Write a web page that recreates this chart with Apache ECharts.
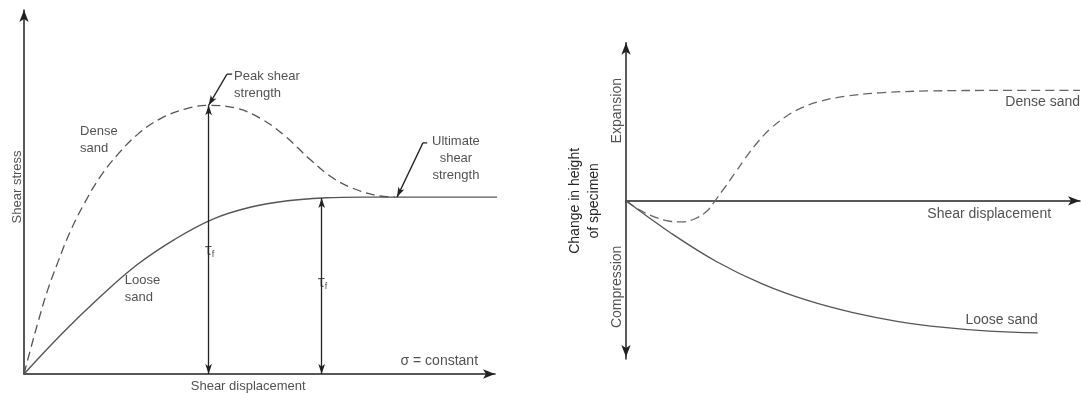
<!DOCTYPE html>
<html><head><meta charset="utf-8">
<script src="https://cdn.jsdelivr.net/npm/echarts@6/dist/echarts.min.js"></script>
<style>html,body{margin:0;padding:0;background:#fff}#chart{width:1081px;height:394px}</style>
</head><body><div id="chart"></div>
<script>
// Left panel: shear stress against shear displacement (arbitrary units 0-100)
const stressDense = [[0,0],[1.27,6.2],[2.97,14.2],[4.88,22.5],[7.22,30.8],[9.77,39.0],[12.74,46.7],[16.14,54.1],[19.96,60.4],[24.2,65.9],[28.9,70.1],[34.2,72.8],[39.2,73.8],[44.8,73.1],[50.1,70.3],[55.4,65.4],[60.7,59.0],[66.0,53.5],[71.3,50.3],[75.6,48.9],[78.8,48.6]];
const stressLoose = [[0,0],[8,11.0],[16,21.0],[24,30.0],[32,37.0],[40,42.5],[48,45.8],[56,47.6],[64,48.4],[72,48.6],[100.6,48.6]];
const peakStrength = [39.2, 73.8];
const ultimateLoose = [63.2, 48.35];
const ultimatePoint = [79.2, 48.6];

// Right panel: change in specimen height against shear displacement
const heightDense = [[0,0],[3.08,-5.8],[6.39,-10.3],[9.69,-12.9],[12.33,-13.3],[15.2,-11.3],[17.84,-6.4],[19.6,0],[21.8,8.6],[24.0,17.6],[26.2,26.6],[28.85,36.6],[31.7,45.3],[35.0,52.9],[38.3,58.3],[42.7,62.9],[48.2,66.1],[55.9,68.3],[67.0,69.5],[82.4,69.8],[100,69.8]];
const heightLoose = [[0,0],[10,-20.6],[20,-38.5],[30,-52.5],[40,-63.0],[50,-70.7],[60,-76.3],[70,-80.0],[80,-82.4],[90.7,-83.5]];

const FONT = '"Liberation Sans", Arial, sans-serif';
const INK = '#222';
const CURVE = '#555';
const TEXT = '#262626';

function txt(x, y, text, extra) {
  return { value: [x, y], label: Object.assign({
    show: true, position: 'inside', formatter: text, color: TEXT,
    fontFamily: FONT, fontSize: 13, lineHeight: 17
  }, extra || {}) };
}

const tauRich = {
  t: { fontSize: 17, fontFamily: FONT, color: TEXT },
  s: { fontSize: 9, fontFamily: FONT, color: TEXT, padding: [9, 0, 0, 0] }
};

const leftLabels = [
  txt(44.6, 79.4, 'Peak shear\nstrength', { align: 'left' }),
  txt(91.7, 59.1, 'Ultimate\nshear\nstrength'),
  txt(11.9, 64.4, 'Dense\nsand', { align: 'left' }),
  txt(21.4, 23.5, 'Loose\nsand', { align: 'left' }),
  txt(96.4, 3.4, 'σ = constant', { align: 'right', fontSize: 14 }),
  txt(47.6, -3.3, 'Shear displacement'),
  txt(-1.4, 51.4, 'Shear stress', { rotate: 90 }),
  txt(peakStrength[0] + 0.2, 34.1, '{t|τ}{s|f}', { rich: tauRich }),
  txt(ultimateLoose[0] + 0.2, 25.3, '{t|τ}{s|f}', { rich: tauRich })
];

const rightLabels = [
  txt(-1.85, 57, 'Expansion', { rotate: 90, fontSize: 14 }),
  txt(-1.85, -54.4, 'Compression', { rotate: 90, fontSize: 14 }),
  txt(80, -8.2, 'Shear displacement', { fontSize: 14 }),
  txt(100, 62.7, 'Dense sand', { align: 'right', fontSize: 14 }),
  txt(90.7, -75.3, 'Loose sand', { align: 'right', fontSize: 14 })
];

function axisLineStyle(symbols, offsets) {
  return { show: true, onZero: true, symbol: symbols, symbolSize: [7, 12], symbolOffset: offsets,
    lineStyle: { color: INK, width: 1.5 } };
}

const hiddenBits = { splitLine: { show: false }, axisTick: { show: false }, axisLabel: { show: false } };

const option = {
  animation: false,
  grid: [
    { left: 24, top: 10, width: 471, height: 364 },
    { left: 626, top: 42.7, width: 454, height: 316.3 }
  ],
  xAxis: [
    Object.assign({ type: 'value', gridIndex: 0, min: 0, max: 100, axisLine: axisLineStyle(['none', 'arrow'], [0, 0]) }, hiddenBits),
    Object.assign({ type: 'value', gridIndex: 1, min: 0, max: 100, axisLine: axisLineStyle(['none', 'arrow'], [0, 0]) }, hiddenBits)
  ],
  yAxis: [
    Object.assign({ type: 'value', gridIndex: 0, min: 0, max: 100, axisLine: axisLineStyle(['none', 'arrow'], [0, 0]) }, hiddenBits),
    Object.assign({ type: 'value', gridIndex: 1, min: -100, max: 100,
      axisLine: axisLineStyle(['arrow', 'arrow'], [2, 0]),
      name: 'Change in height\nof specimen', nameLocation: 'middle', nameGap: 22, nameRotate: 90,
      nameTextStyle: { fontFamily: FONT, fontSize: 14, color: TEXT, lineHeight: 19 } }, hiddenBits)
  ],
  series: [
    {
      type: 'line', xAxisIndex: 0, yAxisIndex: 0, data: stressDense, smooth: 0.4, showSymbol: false, silent: true,
      lineStyle: { color: CURVE, width: 1.3, type: [9, 5] }
    },
    {
      type: 'line', xAxisIndex: 0, yAxisIndex: 0, data: stressLoose, smooth: 0.4, showSymbol: false, silent: true, clip: false,
      lineStyle: { color: CURVE, width: 1.4 },
      markLine: {
        silent: true, symbol: ['arrow', 'arrow'], symbolSize: [5, 10],
        label: { show: false }, lineStyle: { color: INK, width: 1.3, type: 'solid' },
        data: [
          [{ coord: [peakStrength[0], 0] }, { coord: peakStrength }],
          [{ coord: [ultimateLoose[0], 0] }, { coord: ultimateLoose }],
          [{ coord: [peakStrength[0] + 3.9, 82.4], symbol: 'none' }, { coord: peakStrength, symbol: 'arrow' }],
          [{ coord: [ultimatePoint[0] + 5.5, 63.5], symbol: 'none' }, { coord: ultimatePoint, symbol: 'arrow' }]
        ]
      }
    },
    {
      // short horizontal ticks on the annotation leaders
      type: 'line', xAxisIndex: 0, yAxisIndex: 0, showSymbol: false, silent: true,
      data: [[peakStrength[0] + 3.9, 82.4], [peakStrength[0] + 5.0, 82.4]],
      lineStyle: { color: INK, width: 1.2 }
    },
    {
      type: 'line', xAxisIndex: 0, yAxisIndex: 0, showSymbol: false, silent: true,
      data: [[ultimatePoint[0] + 5.5, 63.5], [ultimatePoint[0] + 6.4, 63.5]],
      lineStyle: { color: INK, width: 1.2 }
    },
    {
      type: 'scatter', xAxisIndex: 0, yAxisIndex: 0, symbolSize: 0, silent: true, clip: false, data: leftLabels
    },
    {
      type: 'line', xAxisIndex: 1, yAxisIndex: 1, data: heightDense, smooth: 0.4, showSymbol: false, silent: true,
      lineStyle: { color: '#666', width: 1.3, type: [9, 5] }
    },
    {
      type: 'line', xAxisIndex: 1, yAxisIndex: 1, data: heightLoose, smooth: 0.4, showSymbol: false, silent: true,
      lineStyle: { color: CURVE, width: 1.3 }
    },
    {
      type: 'scatter', xAxisIndex: 1, yAxisIndex: 1, symbolSize: 0, silent: true, clip: false, data: rightLabels
    }
  ]
};

const chart = echarts.init(document.getElementById('chart'), null, { renderer: 'canvas' });
chart.setOption(option);
</script>
</body></html>
